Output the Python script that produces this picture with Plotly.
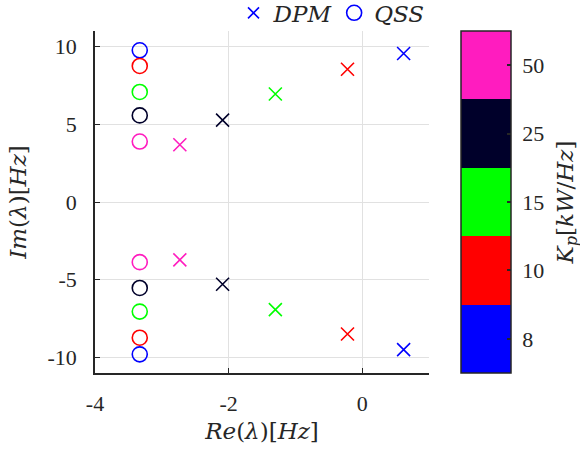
import plotly.graph_objects as go

# Proportional gain values and the colour used for each
kp_values = [8, 10, 15, 25, 50]
kp_colors = ["#0000ff", "#ff0000", "#00ff00", "#00002a", "#ff1cbf"]

# Dominant eigenvalues, DPM model (real part, upper and lower imaginary parts)
dpm_re = [0.62, -0.22, -1.30, -2.09, -2.73]
dpm_im_up = [9.55, 8.54, 6.95, 5.27, 3.68]
dpm_im_lo = [-9.50, -8.49, -6.92, -5.29, -3.72]

# Dominant eigenvalues, QSS model
qss_re = [-3.33, -3.33, -3.33, -3.33, -3.33]
qss_im_up = [9.76, 8.75, 7.08, 5.57, 3.89]
qss_im_lo = [-9.80, -8.73, -7.05, -5.53, -3.87]

x_ticks = [-4, -2, 0]
y_ticks = [-10, -5, 0, 5, 10]

AX = "#262626"
GRID = "#e1e1e1"
TICK_FONT = dict(family="Liberation Serif, Times New Roman, serif", size=22, color=AX)
MATH_FONT = dict(family="DejaVu Serif, serif", size=23, color=AX)
NBSP = "\u00a0"

fig = go.Figure()

for i, c in enumerate(kp_colors):
    fig.add_trace(go.Scatter(
        x=[dpm_re[i], dpm_re[i]], y=[dpm_im_up[i], dpm_im_lo[i]],
        mode="markers", showlegend=False, hoverinfo="x+y",
        marker=dict(symbol="x-thin", size=13, line=dict(color=c, width=1.6)),
    ))
    fig.add_trace(go.Scatter(
        x=[qss_re[i], qss_re[i]], y=[qss_im_up[i], qss_im_lo[i]],
        mode="markers", showlegend=False, hoverinfo="x+y",
        marker=dict(symbol="circle-open", size=15, color=c, line=dict(color=c, width=1.6)),
    ))

# Legend entries, one legend box each so they sit close together
fig.add_trace(go.Scatter(
    x=[None], y=[None], mode="markers", name="<i>DPM</i>", legend="legend",
    marker=dict(symbol="x-thin", size=11, line=dict(color="#0000ff", width=1.6)),
))
fig.add_trace(go.Scatter(
    x=[None], y=[None], mode="markers", name="<i>QSS</i>", legend="legend2",
    marker=dict(symbol="circle-open", size=15, color="#0000ff", line=dict(color="#0000ff", width=1.6)),
))

# Discrete colour bar for Kp
n = len(kp_colors)
cscale = []
for i, c in enumerate(kp_colors):
    cscale.append([i / n, c])
    cscale.append([(i + 1) / n, c])
fig.add_trace(go.Scatter(
    x=[None], y=[None], mode="markers", showlegend=False, hoverinfo="skip",
    marker=dict(
        color=[0], colorscale=cscale, cmin=0, cmax=n, showscale=True,
        colorbar=dict(
            x=1.095, xanchor="left", xpad=0, y=0.5, yanchor="middle", ypad=0,
            len=1, lenmode="fraction", thickness=50, thicknessmode="pixels",
            outlinewidth=1.5, outlinecolor=AX,
            tickvals=[i + 0.5 for i in range(n)],
            ticktext=[NBSP + str(k) + NBSP for k in kp_values],
            ticks="inside", ticklen=4, tickcolor=AX, tickwidth=1.5,
            tickfont=TICK_FONT,
            title=dict(text="<i>K<sub>p</sub></i>[<i>kW</i>/<i>Hz</i>]", side="right", font=MATH_FONT),
        ),
    ),
))

legend_common = dict(
    orientation="h", xanchor="left", y=1.053, yanchor="middle",
    font=MATH_FONT, bgcolor="rgba(0,0,0,0)", itemwidth=30,
)

fig.update_layout(
    width=580, height=457, autosize=False,
    margin=dict(l=95, r=151, t=31, b=84, autoexpand=False),
    paper_bgcolor="white", plot_bgcolor="white",
    showlegend=True,
    legend=dict(x=0.4147, **legend_common),
    legend2=dict(x=0.716, **legend_common),
    xaxis=dict(
        range=[-4, 1], tickvals=x_ticks, ticktext=[str(v) for v in x_ticks],
        showgrid=True, gridcolor=GRID, gridwidth=1, zeroline=False,
        showline=True, linecolor=AX, linewidth=1.5, mirror=False,
        ticks="inside", ticklen=5, tickcolor=AX, tickfont=TICK_FONT,
        ticklabelstandoff=10,
        title=dict(text="<i>Re</i>(<i>λ</i>)[<i>Hz</i>]", font=MATH_FONT, standoff=8),
    ),
    yaxis=dict(
        range=[-11, 11], tickvals=y_ticks, ticktext=[str(v) for v in y_ticks],
        showgrid=True, gridcolor=GRID, gridwidth=1, zeroline=False,
        showline=True, linecolor=AX, linewidth=1.5, mirror=False,
        ticks="inside", ticklen=5, tickcolor=AX, tickfont=TICK_FONT,
        ticklabelstandoff=12,
        title=dict(text="<i>Im</i>(<i>λ</i>)[<i>Hz</i>]", font=MATH_FONT, standoff=14),
    ),
)

fig.write_html("out.html")
